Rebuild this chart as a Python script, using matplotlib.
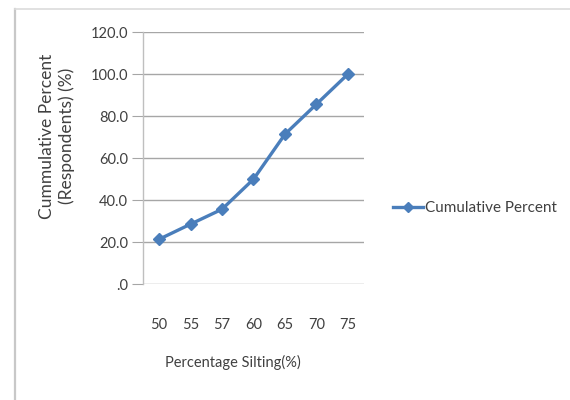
import matplotlib
matplotlib.use("Agg")
import matplotlib.pyplot as plt
from matplotlib.lines import Line2D

silting = ["50", "55", "57", "60", "65", "70", "75"]
cumulative_percent = [21.4, 28.6, 35.7, 50.0, 71.4, 85.7, 100.0]
y_ticks = [0, 20, 40, 60, 80, 100, 120]
y_tick_labels = [".0", "20.0", "40.0", "60.0", "80.0", "100.0", "120.0"]

plt.rcParams["font.family"] = ["Lato", "DejaVu Sans"]

text_color = "#404040"
line_color = "#4a7ebb"
grid_color = "#a6a6a6"

fig = plt.figure(figsize=(5.7, 4.0), dpi=100)
fig.patch.set_facecolor("white")

# outer chart frame
fig.add_artist(Line2D([15 / 570, 15 / 570], [0, 1 - 9 / 400], color="#c8c8c8", lw=1.6,
                      transform=fig.transFigure))
fig.add_artist(Line2D([15 / 570, 1], [1 - 9 / 400, 1 - 9 / 400], color="#dcdcdc", lw=1.2,
                      transform=fig.transFigure))

ax = fig.add_axes([143.25 / 570, (400 - 284.3) / 400, 220.5 / 570, 252.3 / 400])
x = list(range(len(silting)))
ax.plot(x, cumulative_percent, color=line_color, lw=2.4, marker="D", markersize=6,
        markerfacecolor=line_color, markeredgecolor=line_color, label="Cumulative Percent")

ax.set_xlim(-0.5, len(silting) - 0.5)
ax.set_ylim(0, 120)
ax.set_yticks(y_ticks)
ax.set_yticklabels(y_tick_labels)
ax.set_xticks(x)
ax.set_xticklabels(silting)
ax.yaxis.grid(True, color=grid_color, lw=1.0)
ax.set_axisbelow(True)
for side in ("top", "right", "bottom"):
    ax.spines[side].set_visible(False)
ax.spines["left"].set_color("#bfbfbf")
ax.spines["left"].set_linewidth(1.0)
ax.tick_params(axis="y", length=8, color=grid_color, labelsize=10.5, labelcolor=text_color, pad=3)
ax.tick_params(axis="x", length=0, labelsize=10.5, labelcolor=text_color, pad=24)

ax.set_xlabel("Percentage Silting(%)", fontsize=10.5, color=text_color)
ax.xaxis.set_label_coords((233 - 143.25) / 220.5, -(362 - 284.3) / 252.3)
ax.xaxis.label.set_va("center")
ax.set_ylabel("Cummulative Percent\n(Respondents) (%)", fontsize=12.5, color=text_color,
              linespacing=1.3)
ax.yaxis.set_label_coords(-(143.25 - 57) / 220.5, (284.3 - 136) / 252.3)
ax.yaxis.label.set_va("center")

handles, labels = ax.get_legend_handles_labels()
fig.legend(handles, labels, loc="center left", bbox_to_anchor=(385 / 570, 1 - 208 / 400),
           frameon=False, fontsize=11, labelcolor=text_color, handlelength=2.0,
           handletextpad=0.1, borderpad=0, markerscale=0.8)

fig.savefig("out.png", dpi=100)
